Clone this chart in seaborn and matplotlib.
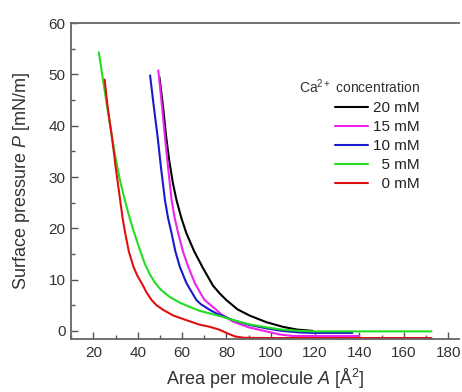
import numpy as np
import pandas as pd
import matplotlib
matplotlib.use("Agg")
import matplotlib.pyplot as plt
import seaborn as sns
from matplotlib.ticker import MultipleLocator

# ---- data ----
labels = ["20 mM", "15 mM", "10 mM", "\u20075 mM", "\u20070 mM"]
colors = ["#000000", "#ee22ee", "#1a1acc", "#22dd22", "#dd1111"]

a_20 = [49.8, 51.5, 52.8, 54.2, 55.8, 57.5, 59.7, 62.0, 65.5, 69.5, 74.0, 77.0, 80.0, 85.0, 90.4, 98.0, 105.4, 112.0, 119.0]
p_20 = [49.5, 43.5, 38.0, 33.3, 29.0, 25.5, 22.0, 19.0, 15.5, 12.2, 8.8, 7.3, 6.0, 4.2, 3.0, 1.7, 0.8, 0.25, 0.0]

a_15 = [49.3, 50.8, 52.3, 53.8, 55.3, 56.7, 58.3, 60.4, 62.8, 65.8, 68.0, 70.2, 75.5, 77.5, 83.0, 90.0, 98.0, 104.0, 110.0, 140.0]
p_15 = [50.8, 44.5, 37.8, 31.5, 25.5, 22.0, 19.0, 15.5, 12.5, 9.3, 7.6, 6.0, 4.1, 3.3, 1.8, 0.7, -0.1, -0.7, -1.0, -1.0]

a_10 = [45.6, 47.2, 49.0, 50.6, 52.3, 53.7, 55.3, 57.0, 59.0, 62.0, 66.5, 68.5, 72.5, 75.5, 80.0, 83.0, 90.0, 98.0, 105.0, 113.0, 120.0, 136.8]
p_10 = [49.8, 44.0, 37.8, 31.5, 25.5, 22.0, 19.0, 15.5, 12.5, 9.3, 6.0, 5.2, 4.1, 3.4, 2.6, 2.1, 1.2, 0.5, 0.0, -0.3, -0.4, -0.4]

a_5 = [22.5, 24.5, 26.5, 28.4, 30.0, 31.8, 33.5, 35.3, 36.8, 38.3, 40.6, 43.3, 45.5, 47.8, 50.5, 54.5, 59.0, 65.0, 68.0, 77.0, 83.0, 90.0, 98.0, 105.0, 113.0, 120.0, 172.5]
p_5 = [54.3, 48.5, 43.0, 37.8, 33.8, 29.8, 26.7, 23.7, 21.4, 19.3, 16.3, 13.0, 11.0, 9.4, 8.0, 6.6, 5.5, 4.4, 3.9, 2.9, 2.1, 1.3, 0.7, 0.25, 0.0, -0.1, -0.1]

a_0 = [25.1, 26.5, 28.4, 30.2, 32.1, 33.2, 34.4, 36.0, 38.1, 39.8, 41.8, 44.0, 46.3, 48.5, 51.5, 56.0, 61.9, 68.0, 72.5, 77.0, 80.0, 84.0, 88.0, 100.0, 172.5]
p_0 = [49.0, 43.5, 37.8, 31.5, 25.5, 22.0, 19.0, 15.5, 12.5, 10.8, 9.3, 7.5, 6.0, 5.0, 4.1, 3.0, 2.1, 1.2, 0.8, 0.2, -0.4, -1.1, -1.35, -1.4, -1.4]

xticks = [20, 40, 60, 80, 100, 120, 140, 160, 180]
yticks = [0, 10, 20, 30, 40, 50, 60]

series = [(a_20, p_20), (a_15, p_15), (a_10, p_10), (a_5, p_5), (a_0, p_0)]
frames = []
for lab, (a, p) in zip(labels, series):
    frames.append(pd.DataFrame({"A": a, "P": p, "conc": lab}))
df = pd.concat(frames, ignore_index=True)

# ---- style ----
sns.set_style("ticks")
plt.rcParams["font.family"] = ["Liberation Sans", "DejaVu Sans"]
plt.rcParams["mathtext.fontset"] = "custom"
plt.rcParams["mathtext.rm"] = "Liberation Sans"
plt.rcParams["mathtext.it"] = "Liberation Sans:italic"
plt.rcParams["mathtext.bf"] = "Liberation Sans:bold"

fig = plt.figure(figsize=(4.62, 3.92), dpi=100)
ax = fig.add_axes([0.154, 0.135, 0.840, 0.806])

sns.lineplot(data=df, x="A", y="P", hue="conc", hue_order=labels,
             palette=dict(zip(labels, colors)), sort=False, estimator=None,
             linewidth=1.5, ax=ax)

ax.set_xlim(10, 185)
ax.set_ylim(-1.6, 60)
ax.set_xticks(xticks)
ax.set_yticks(yticks)
ax.xaxis.set_minor_locator(MultipleLocator(10))
ax.yaxis.set_minor_locator(MultipleLocator(5))
ax.tick_params(which="both", direction="in", colors="#555555", labelcolor="#333333",
               labelsize=11, width=1)
ax.tick_params(which="major", length=5)
ax.tick_params(which="minor", length=3)
ax.tick_params(axis="x", pad=5)
ax.tick_params(axis="y", pad=4)
for s in ["left", "bottom", "top"]:
    ax.spines[s].set_color("#666666")
    ax.spines[s].set_linewidth(1.3)
ax.spines["right"].set_visible(False)
ax.spines["top"].set_visible(True)

ax.set_xlabel("Area per molecule $A$ [Å$^2$]", fontsize=13, color="#333333", labelpad=5)
ax.set_ylabel("Surface pressure $P$ [mN/m]", fontsize=13, color="#333333", labelpad=12)

handles, _ = ax.get_legend_handles_labels()
leg = ax.legend(handles=handles, labels=labels, title="Ca$^{2+}$ concentration",
                loc="upper right", bbox_to_anchor=(0.925, 0.862), frameon=False,
                fontsize=11, title_fontsize=10, handlelength=2.2,
                handletextpad=0.3, labelspacing=0.33, alignment="right",
                borderaxespad=0.3)
for t in leg.get_texts():
    t.set_color("#222222")
leg.get_title().set_color("#333333")

fig.savefig("out.png", dpi=100)
